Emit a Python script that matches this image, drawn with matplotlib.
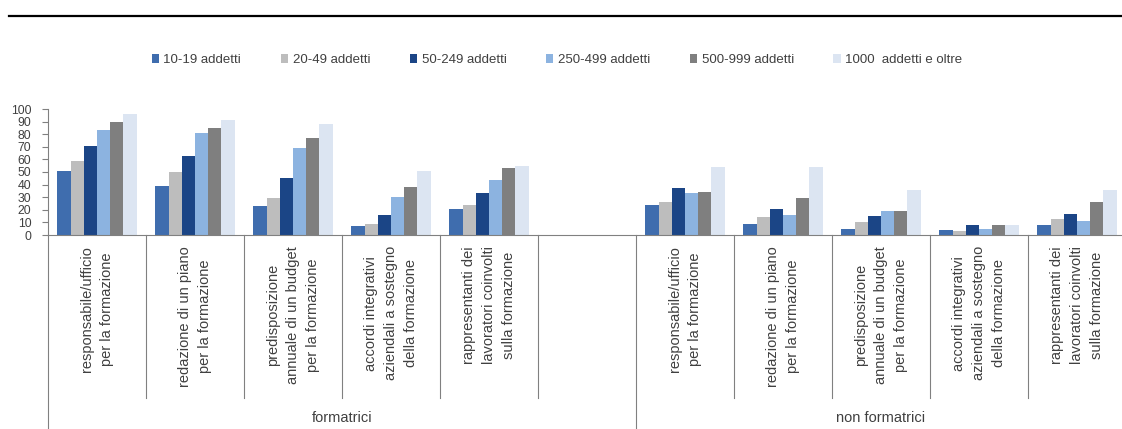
import matplotlib
matplotlib.use("Agg")
import matplotlib.pyplot as plt
from matplotlib.patches import Patch
from matplotlib.lines import Line2D
import numpy as np

plt.rcParams['font.family'] = ['Liberation Sans', 'DejaVu Sans']

series = ["10-19 addetti", "20-49 addetti", "50-249 addetti",
          "250-499 addetti", "500-999 addetti", "1000  addetti e oltre"]
colors = ["#3F6DAE", "#BDBDBD", "#1B4586", "#8CB3E0", "#7F7F7F", "#DCE5F2"]

categories = ["responsabile/ufficio\nper la formazione",
              "redazione di un piano\nper la formazione",
              "predisposizione\nannuale di un budget\nper la formazione",
              "accordi integrativi\naziendali a sostegno\ndella formazione",
              "rappresentanti dei\nlavoratori coinvolti\nsulla formazione"]
groups = ["formatrici", "non formatrici"]

formatrici = [
    [51, 39, 23, 7, 21],
    [59, 50, 29, 9, 24],
    [71, 63, 45, 16, 33],
    [83, 81, 69, 30, 44],
    [90, 85, 77, 38, 53],
    [96, 91, 88, 51, 55],
]
non_formatrici = [
    [24, 9, 5, 4, 8],
    [26, 14, 10, 3, 13],
    [37, 21, 15, 8, 17],
    [33, 16, 19, 5, 11],
    [34, 29, 19, 8, 26],
    [54, 54, 36, 8, 36],
]

W, H = 1122, 429
fig = plt.figure(figsize=(W / 100, H / 100), dpi=100)

ax_left, ax_right = 48, 1126
ax_top, ax_bot = 109, 235
ax = fig.add_axes([ax_left / W, (H - ax_bot) / H, (ax_right - ax_left) / W, (ax_bot - ax_top) / H])
ax_h_px = ax_bot - ax_top

n_slots = 11
ax.set_xlim(0, n_slots)
ax.set_ylim(0, 100)

bw = 0.135
slots_form = np.arange(5)
slots_non = np.arange(5) + 6
for k in range(6):
    off = (k - 2.5) * bw
    ax.bar(slots_form + 0.5 + off, formatrici[k], width=bw, color=colors[k], linewidth=0)
    ax.bar(slots_non + 0.5 + off, non_formatrici[k], width=bw, color=colors[k], linewidth=0)

for s in ['top', 'right']:
    ax.spines[s].set_visible(False)
ax.spines['left'].set_color('#808080')
ax.spines['bottom'].set_color('#808080')
ax.spines['left'].set_linewidth(0.8)
ax.spines['bottom'].set_linewidth(0.8)
ax.set_xticks([])
ax.set_yticks(np.arange(0, 101, 10))
ax.tick_params(axis='y', length=4, width=0.8, color='#808080', pad=8,
               labelsize=8.8, labelcolor='#404040')

trans = ax.get_xaxis_transform()
short_end = -(398 - ax_bot) / ax_h_px
long_end = -(H + 5 - ax_bot) / ax_h_px
for i in range(n_slots + 1):
    y1 = long_end if i in (0, 6, 11) else short_end
    ax.add_line(Line2D([i, i], [0, y1], transform=trans, color='#808080',
                       lw=0.8, clip_on=False))

lab_y = -(246 - ax_bot) / ax_h_px
for slots in (slots_form, slots_non):
    for s, c in zip(slots, categories):
        ax.text(s + 0.5, lab_y, c, transform=trans, rotation=90, ha='center', va='top',
                multialignment='center', fontsize=10.5, color='#404040', linespacing=1.55)

grp_y = -(418 - ax_bot) / ax_h_px
ax.text(3, grp_y, groups[0], transform=trans, ha='center', va='center', fontsize=10.5, color='#404040')
ax.text(8.5, grp_y, groups[1], transform=trans, ha='center', va='center', fontsize=10.5, color='#404040')

# top rule
fig.add_artist(Line2D([9 / W, 1.0], [(H - 16) / H, (H - 16) / H], color='black', lw=1.6,
                      transform=fig.transFigure))

handles = [Patch(facecolor=c, edgecolor='none') for c in colors]
leg = fig.legend(handles, series, loc='center', bbox_to_anchor=(557 / W, (H - 60) / H),
                 ncol=6, frameon=False, fontsize=9.5, handlelength=0.55, handleheight=0.7,
                 handletextpad=0.35, columnspacing=3.0)
for t in leg.get_texts():
    t.set_color('#404040')

fig.savefig("out.png", dpi=100)
